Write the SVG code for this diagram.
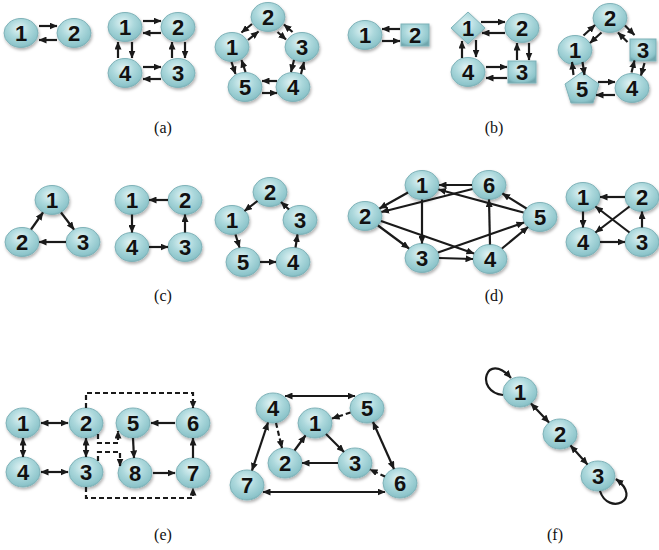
<svg xmlns="http://www.w3.org/2000/svg" width="659" height="550" viewBox="0 0 659 550">
<style>
.n{fill:url(#g);stroke:#7fb2b8;stroke-width:1;filter:url(#sh)}
.t{font-family:'Liberation Sans',Arimo,Arial,sans-serif;font-weight:bold;font-size:22px;fill:#111;text-anchor:middle}
.e{fill:none;stroke:#1a1a1a;stroke-width:2.2;marker-end:url(#ah)}
.b{marker-start:url(#ah)}
.d{stroke-dasharray:5,3}
.l{font-family:'Liberation Serif',Tinos,'Times New Roman','DejaVu Serif',serif;font-size:16px;fill:#111;text-anchor:middle}
</style>
<defs>
<radialGradient id="g" cx="45%" cy="35%" r="70%">
<stop offset="0" stop-color="#e2f4f5"/>
<stop offset="0.45" stop-color="#acd8dc"/>
<stop offset="0.85" stop-color="#8cc4ca"/>
<stop offset="1" stop-color="#70a7ae"/>
</radialGradient>
<filter id="sh" x="-30%" y="-30%" width="160%" height="170%">
<feDropShadow dx="1" dy="2" stdDeviation="1.4" flood-color="#000" flood-opacity="0.3"/>
</filter>
<marker id="ah" markerUnits="userSpaceOnUse" markerWidth="8" markerHeight="7" refX="7.5" refY="3.5" orient="auto-start-reverse">
<path d="M0,0 L8,3.5 L0,7 z" fill="#1a1a1a"/>
</marker>
</defs>
<rect width="659" height="550" fill="#fff"/>

<!-- (a) -->
<g id="a1-n1"><ellipse class="n" cx="21" cy="33" rx="17" ry="14.5"/><text class="t" x="21" y="41">1</text></g>
<g id="a1-n2"><ellipse class="n" cx="74" cy="33" rx="17" ry="14.5"/><text class="t" x="74" y="41">2</text></g>
<g id="a2-n1"><ellipse class="n" cx="125" cy="27" rx="17" ry="14.5"/><text class="t" x="125" y="35">1</text></g>
<g id="a2-n2"><ellipse class="n" cx="178" cy="27" rx="17" ry="14.5"/><text class="t" x="178" y="35">2</text></g>
<g id="a2-n4"><ellipse class="n" cx="125" cy="73" rx="17" ry="14.5"/><text class="t" x="125" y="81">4</text></g>
<g id="a2-n3"><ellipse class="n" cx="178" cy="73" rx="17" ry="14.5"/><text class="t" x="178" y="81">3</text></g>
<g id="a3-n2"><ellipse class="n" cx="268" cy="17" rx="17" ry="14.5"/><text class="t" x="268" y="25">2</text></g>
<g id="a3-n1"><ellipse class="n" cx="232" cy="47" rx="17" ry="14.5"/><text class="t" x="232" y="55">1</text></g>
<g id="a3-n3"><ellipse class="n" cx="302" cy="47" rx="17" ry="14.5"/><text class="t" x="302" y="55">3</text></g>
<g id="a3-n5"><ellipse class="n" cx="245" cy="87" rx="17" ry="14.5"/><text class="t" x="245" y="95">5</text></g>
<g id="a3-n4"><ellipse class="n" cx="293" cy="87" rx="17" ry="14.5"/><text class="t" x="293" y="95">4</text></g>

<!-- (b) -->
<g id="b1-n1"><ellipse class="n" cx="365" cy="35" rx="17" ry="14.5"/><text class="t" x="365" y="43">1</text></g>
<g id="b1-n2"><rect class="n" x="401" y="24" width="28" height="22"/><text class="t" x="415" y="43">2</text></g>
<g id="b2-n1"><polygon class="n" points="468,12 485,28 468,44 451,28"/><text class="t" x="468" y="36">1</text></g>
<g id="b2-n2"><ellipse class="n" cx="522" cy="28" rx="17" ry="14.5"/><text class="t" x="522" y="36">2</text></g>
<g id="b2-n4"><ellipse class="n" cx="468" cy="72" rx="17" ry="14.5"/><text class="t" x="468" y="80">4</text></g>
<g id="b2-n3"><rect class="n" x="508" y="61" width="28" height="22"/><text class="t" x="522" y="80">3</text></g>
<g id="b3-n2"><ellipse class="n" cx="610" cy="18" rx="17" ry="14.5"/><text class="t" x="610" y="26">2</text></g>
<g id="b3-n1"><ellipse class="n" cx="575" cy="50" rx="17" ry="14.5"/><text class="t" x="575" y="58">1</text></g>
<g id="b3-n3"><rect class="n" x="630" y="39" width="26" height="22"/><text class="t" x="643" y="58">3</text></g>
<g id="b3-n5"><polygon class="n" points="582,72 599,84 593,103 571,103 565,84"/><text class="t" x="582" y="96.5">5</text></g>
<g id="b3-n4"><ellipse class="n" cx="632" cy="88" rx="17" ry="14.5"/><text class="t" x="632" y="96">4</text></g>

<!-- (c) -->
<g id="c1-n1"><ellipse class="n" cx="52" cy="200" rx="17" ry="14.5"/><text class="t" x="52" y="208">1</text></g>
<g id="c1-n2"><ellipse class="n" cx="22" cy="242" rx="17" ry="14.5"/><text class="t" x="22" y="250">2</text></g>
<g id="c1-n3"><ellipse class="n" cx="83" cy="242" rx="17" ry="14.5"/><text class="t" x="83" y="250">3</text></g>
<g id="c2-n1"><ellipse class="n" cx="132" cy="200" rx="17" ry="14.5"/><text class="t" x="132" y="208">1</text></g>
<g id="c2-n2"><ellipse class="n" cx="185" cy="200" rx="17" ry="14.5"/><text class="t" x="185" y="208">2</text></g>
<g id="c2-n4"><ellipse class="n" cx="132" cy="247" rx="17" ry="14.5"/><text class="t" x="132" y="255">4</text></g>
<g id="c2-n3"><ellipse class="n" cx="185" cy="247" rx="17" ry="14.5"/><text class="t" x="185" y="255">3</text></g>
<g id="c3-n2"><ellipse class="n" cx="270" cy="192" rx="17" ry="14.5"/><text class="t" x="270" y="200">2</text></g>
<g id="c3-n1"><ellipse class="n" cx="232" cy="220" rx="17" ry="14.5"/><text class="t" x="232" y="228">1</text></g>
<g id="c3-n3"><ellipse class="n" cx="300" cy="220" rx="17" ry="14.5"/><text class="t" x="300" y="228">3</text></g>
<g id="c3-n5"><ellipse class="n" cx="243" cy="262" rx="17" ry="14.5"/><text class="t" x="243" y="270">5</text></g>
<g id="c3-n4"><ellipse class="n" cx="293" cy="262" rx="17" ry="14.5"/><text class="t" x="293" y="270">4</text></g>

<!-- (d) -->
<g id="d1-n1"><ellipse class="n" cx="422" cy="185" rx="17" ry="14.5"/><text class="t" x="422" y="193">1</text></g>
<g id="d1-n6"><ellipse class="n" cx="489" cy="185" rx="17" ry="14.5"/><text class="t" x="489" y="193">6</text></g>
<g id="d1-n2"><ellipse class="n" cx="365" cy="216" rx="17" ry="14.5"/><text class="t" x="365" y="224">2</text></g>
<g id="d1-n5"><ellipse class="n" cx="540" cy="217" rx="17" ry="14.5"/><text class="t" x="540" y="225">5</text></g>
<g id="d1-n3"><ellipse class="n" cx="422" cy="258" rx="17" ry="14.5"/><text class="t" x="422" y="266">3</text></g>
<g id="d1-n4"><ellipse class="n" cx="490" cy="259" rx="17" ry="14.5"/><text class="t" x="490" y="267">4</text></g>
<g id="d2-n1"><ellipse class="n" cx="583" cy="197" rx="17" ry="14.5"/><text class="t" x="583" y="205">1</text></g>
<g id="d2-n2"><ellipse class="n" cx="642" cy="197" rx="17" ry="14.5"/><text class="t" x="642" y="205">2</text></g>
<g id="d2-n4"><ellipse class="n" cx="583" cy="242" rx="17" ry="14.5"/><text class="t" x="583" y="250">4</text></g>
<g id="d2-n3"><ellipse class="n" cx="642" cy="242" rx="17" ry="14.5"/><text class="t" x="642" y="250">3</text></g>

<!-- (e) -->
<g id="e1-n1"><ellipse class="n" cx="23" cy="423" rx="17" ry="15"/><text class="t" x="23" y="431">1</text></g>
<g id="e1-n2"><ellipse class="n" cx="86" cy="423" rx="17" ry="15"/><text class="t" x="86" y="431">2</text></g>
<g id="e1-n5"><ellipse class="n" cx="133" cy="423" rx="17" ry="15"/><text class="t" x="133" y="431">5</text></g>
<g id="e1-n6"><ellipse class="n" cx="193" cy="423" rx="17" ry="15"/><text class="t" x="193" y="431">6</text></g>
<g id="e1-n4"><ellipse class="n" cx="23" cy="472" rx="17" ry="15"/><text class="t" x="23" y="480">4</text></g>
<g id="e1-n3"><ellipse class="n" cx="86" cy="472" rx="17" ry="15"/><text class="t" x="86" y="480">3</text></g>
<g id="e1-n8"><ellipse class="n" cx="135" cy="473" rx="17" ry="15"/><text class="t" x="135" y="481">8</text></g>
<g id="e1-n7"><ellipse class="n" cx="193" cy="473" rx="17" ry="15"/><text class="t" x="193" y="481">7</text></g>
<g id="e2-n4"><ellipse class="n" cx="273" cy="408" rx="17" ry="15"/><text class="t" x="273" y="416">4</text></g>
<g id="e2-n5"><ellipse class="n" cx="367" cy="408" rx="17" ry="15"/><text class="t" x="367" y="416">5</text></g>
<g id="e2-n1"><ellipse class="n" cx="315" cy="423" rx="17" ry="15"/><text class="t" x="315" y="431">1</text></g>
<g id="e2-n2"><ellipse class="n" cx="285" cy="463" rx="17" ry="15"/><text class="t" x="285" y="471">2</text></g>
<g id="e2-n3"><ellipse class="n" cx="355" cy="463" rx="17" ry="15"/><text class="t" x="355" y="471">3</text></g>
<g id="e2-n7"><ellipse class="n" cx="247" cy="485" rx="17" ry="15"/><text class="t" x="247" y="493">7</text></g>
<g id="e2-n6"><ellipse class="n" cx="400" cy="483" rx="17" ry="15"/><text class="t" x="400" y="491">6</text></g>

<!-- (f) -->
<g id="f-n1"><ellipse class="n" cx="520" cy="392" rx="17" ry="15"/><text class="t" x="520" y="400">1</text></g>
<g id="f-n2"><ellipse class="n" cx="560" cy="434" rx="17" ry="15"/><text class="t" x="560" y="442">2</text></g>
<g id="f-n3"><ellipse class="n" cx="598" cy="476" rx="17" ry="15"/><text class="t" x="598" y="484">3</text></g>

<g id="connectors">
<!-- a1 -->
<line class="e" x1="39" y1="26" x2="57" y2="26"/>
<line class="e" x1="57" y1="40" x2="39" y2="40"/>
<!-- a2 -->
<line class="e" x1="143" y1="21" x2="161" y2="21"/>
<line class="e" x1="161" y1="33" x2="143" y2="33"/>
<line class="e" x1="118" y1="58" x2="118" y2="42"/>
<line class="e" x1="132" y1="42" x2="132" y2="58"/>
<line class="e" x1="172" y1="58" x2="172" y2="42"/>
<line class="e" x1="185" y1="42" x2="185" y2="58"/>
<line class="e" x1="143" y1="67" x2="161" y2="67"/>
<line class="e" x1="161" y1="79" x2="143" y2="79"/>
<!-- a3 -->
<line class="e" x1="248" y1="40" x2="258.5" y2="31.5"/>
<line class="e" x1="252" y1="24" x2="241.5" y2="32.5"/>
<line class="e" x1="277.5" y1="32" x2="286" y2="39.5"/>
<line class="e" x1="292.5" y1="32" x2="284" y2="24.5"/>
<line class="e" x1="294" y1="60" x2="291" y2="72"/>
<line class="e" x1="301" y1="74" x2="304" y2="62"/>
<line class="e" x1="277" y1="81" x2="262" y2="81"/>
<line class="e" x1="262" y1="93" x2="277" y2="93"/>
<line class="e" x1="245.5" y1="72" x2="241.5" y2="60"/>
<line class="e" x1="231.5" y1="62" x2="235.5" y2="74"/>
<!-- b1 -->
<line class="e" x1="400" y1="29" x2="382" y2="29"/>
<line class="e" x1="382" y1="41" x2="400" y2="41"/>
<!-- b2 -->
<line class="e" x1="481" y1="22" x2="505" y2="22"/>
<line class="e" x1="505" y1="33" x2="482" y2="33"/>
<line class="e" x1="462" y1="58" x2="462" y2="41"/>
<line class="e" x1="476" y1="40" x2="476" y2="57"/>
<line class="e" x1="517" y1="60" x2="517" y2="43"/>
<line class="e" x1="529" y1="43" x2="529" y2="60"/>
<line class="e" x1="486" y1="67" x2="507" y2="67"/>
<line class="e" x1="507" y1="78" x2="486" y2="78"/>
<!-- b3 -->
<line class="e" x1="601.5" y1="32.5" x2="590" y2="43"/>
<line class="e" x1="583.5" y1="35.5" x2="595" y2="25"/>
<line class="e" x1="627.5" y1="42" x2="618" y2="32.5"/>
<line class="e" x1="625" y1="25.5" x2="634.5" y2="35"/>
<line class="e" x1="631.5" y1="72.5" x2="634.5" y2="60.5"/>
<line class="e" x1="644.5" y1="63" x2="641" y2="75.5"/>
<line class="e" x1="598" y1="82" x2="615" y2="82"/>
<line class="e" x1="615" y1="95" x2="596" y2="95"/>
<line class="e" x1="582.5" y1="62" x2="584.5" y2="75"/>
<line class="e" x1="573.5" y1="75" x2="572" y2="62"/>
<!-- c1 -->
<line class="e" x1="31" y1="229.5" x2="43" y2="212.5"/>
<line class="e" x1="61" y1="212.5" x2="74" y2="229.5"/>
<line class="e" x1="66" y1="242" x2="39" y2="242"/>
<!-- c2 -->
<line class="e" x1="168" y1="200" x2="149" y2="200"/>
<line class="e" x1="132" y1="214.5" x2="132" y2="232.5"/>
<line class="e" x1="149" y1="247" x2="168" y2="247"/>
<line class="e" x1="185" y1="232.5" x2="185" y2="214.5"/>
<!-- c3 -->
<line class="e" x1="257.5" y1="201" x2="244.5" y2="211"/>
<line class="e" x1="235.5" y1="234.5" x2="239.5" y2="247.5"/>
<line class="e" x1="260" y1="262" x2="276" y2="262"/>
<line class="e" x1="295.5" y1="247.5" x2="297.5" y2="234.5"/>
<line class="e" x1="289" y1="209.5" x2="281" y2="202"/>
<!-- d1 -->
<line class="e" x1="472" y1="185" x2="439" y2="185"/>
<line class="e" x1="408" y1="192.5" x2="379.5" y2="208.5"/>
<line class="e" x1="472.5" y1="189" x2="381.5" y2="212"/>
<line class="e" x1="523.5" y1="212.5" x2="438.5" y2="189.5"/>
<line class="e" x1="526.5" y1="208.5" x2="502.5" y2="193.5"/>
<line class="e" x1="422" y1="199.5" x2="422" y2="243.5"/>
<line class="e" x1="378" y1="225.5" x2="409" y2="248.5"/>
<line class="e" x1="381" y1="221" x2="474" y2="253.5"/>
<line class="e" x1="438" y1="252.5" x2="524" y2="222.5"/>
<line class="e" x1="490" y1="244.5" x2="489" y2="199.5"/>
<line class="e" x1="439" y1="258" x2="473" y2="259"/>
<line class="e" x1="502" y1="248.5" x2="528" y2="227"/>
<!-- d2 -->
<line class="e" x1="625" y1="197" x2="600" y2="197"/>
<line class="e" x1="583" y1="211.5" x2="583" y2="227.5"/>
<line class="e" x1="600" y1="242" x2="625" y2="242"/>
<line class="e" x1="642" y1="227.5" x2="642" y2="211.5"/>
<line class="e" x1="629.5" y1="232.5" x2="595.5" y2="206.5"/>
<line class="e" x1="629.5" y1="206.5" x2="595.5" y2="232.5"/>
<!-- e1 -->
<line class="e b" x1="41" y1="423" x2="68" y2="423"/>
<line class="e b" x1="23" y1="438" x2="23" y2="457"/>
<line class="e b" x1="86" y1="438" x2="86" y2="457"/>
<line class="e b" x1="41" y1="472" x2="68" y2="472"/>
<line class="e" x1="175" y1="423" x2="151" y2="423"/>
<line class="e" x1="133" y1="438" x2="134" y2="458"/>
<line class="e" x1="153" y1="473" x2="175" y2="473"/>
<line class="e" x1="193" y1="458" x2="193" y2="438"/>
<path class="e d" d="M86,408 V393 H193 V408"/>
<path class="e d" d="M86,487 V498 H193 V488"/>
<path class="e d" d="M98,434 V443 H118 V431"/>
<path class="e d" d="M98,461 V452 H120 V466"/>
<!-- e2 -->
<line class="e b" x1="285" y1="396" x2="355" y2="396"/>
<line class="e d" x1="350.5" y1="412.5" x2="332" y2="418.5"/>
<line class="e d" x1="276" y1="423" x2="282" y2="448"/>
<line class="e" x1="294.5" y1="450.5" x2="305.5" y2="435.5"/>
<line class="e" x1="326" y1="434" x2="344" y2="452"/>
<line class="e" x1="338" y1="463" x2="302" y2="463"/>
<line class="e d" x1="385" y1="476.5" x2="370" y2="469.5"/>
<line class="e b" x1="373" y1="422" x2="394" y2="469"/>
<line class="e b" x1="268" y1="422.5" x2="252" y2="470.5"/>
<line class="e b" x1="263" y1="492" x2="385" y2="492"/>
<!-- f -->
<line class="e b" x1="531" y1="403.5" x2="549" y2="422.5"/>
<line class="e b" x1="570.5" y1="445.5" x2="587.5" y2="464.5"/>
<path class="e" d="M503,395 C474,392 486,350 511,378"/>
<path class="e" d="M600,491 C608,516 644,500 616,479"/>
</g>

<text class="l" x="163" y="133">(a)</text>
<text class="l" x="494" y="133">(b)</text>
<text class="l" x="163" y="301">(c)</text>
<text class="l" x="494" y="301">(d)</text>
<text class="l" x="163" y="540">(e)</text>
<text class="l" x="555" y="540">(f)</text>
</svg>
